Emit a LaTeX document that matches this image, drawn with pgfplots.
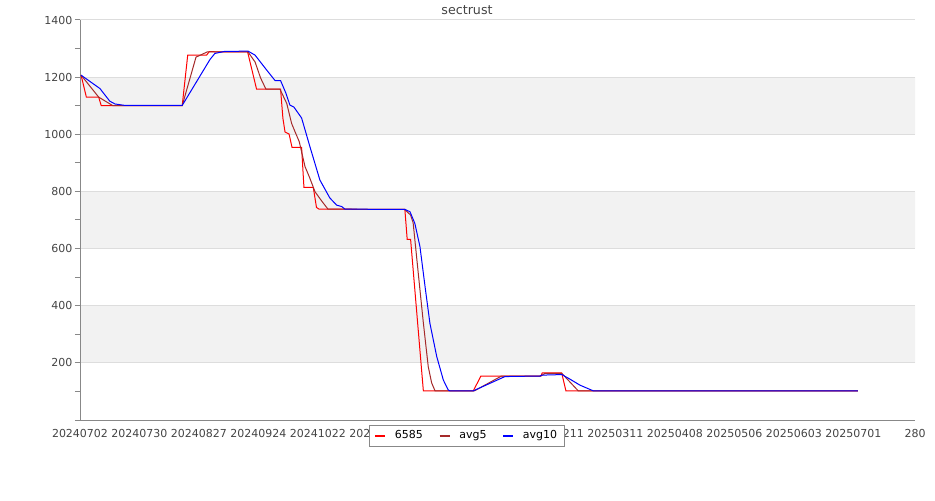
\documentclass[border=0pt]{standalone}
\usepackage{fontspec}
\setmainfont{DejaVu Sans}
\usepackage{pgfplots}
\pgfplotsset{compat=1.18}
\definecolor{bandgray}{HTML}{F2F2F2}
\definecolor{gridgray}{HTML}{DDDDDD}
\definecolor{axgray}{HTML}{888888}
\definecolor{txtgray}{HTML}{444444}
\definecolor{avgbrown}{HTML}{A52A2A}
\begin{document}
\begin{tikzpicture}
\begin{axis}[
  set layers,
  scale only axis, width=626.25pt, height=300pt,
  at={(0pt,0pt)}, anchor=south west,
  xmin=0, xmax=393, ymin=0, ymax=1400,
  axis x line*=bottom, axis y line*=left,
  axis line style={axgray, line width=0.75pt, -},
  ytick={200,400,...,1400},
  minor ytick={0,100,...,1300},
  tick align=outside,
  major tick length=3.75pt, minor tick length=3.75pt,
  ytick style={axgray, line width=0.75pt},
  minor tick style={axgray, line width=0.75pt},
  xtick={0,28,...,364,393},
  xticklabels={20240702,20240730,20240827,20240924,20241022,20241119,20241217,20250114,20250211,20250311,20250408,20250506,20250603,20250701,280},
  xtick style={draw=none},
  ymajorgrids,
  major grid style={gridgray, line width=0.75pt},
  /pgf/number format/assume math mode=true,
  /pgf/number format/1000 sep={},
  tick label style={font=\fontsize{8.25}{10}\selectfont, text=txtgray},
  xticklabel style={yshift=0.25pt},
  yticklabel style={xshift=1.5pt},
  title={sectrust},
  title style={font=\fontsize{9.5}{11}\selectfont, text=txtgray, at={(0.4635,1)}, anchor=center, yshift=1.5pt},
  legend style={at={(0.4635,-0.0125)}, anchor=north, draw=axgray, fill=white,
    font=\fontsize{8.25}{10}\selectfont, text=black, legend columns=3,
    /tikz/every odd column/.append style={column sep=4.5pt},
    /tikz/every even column/.append style={column sep=9.75pt},
    inner xsep=3.75pt, inner ysep=2pt},
  legend image code/.code={\draw[#1, line width=1.5pt] (0pt,0pt) -- (7.5pt,0pt);},
]
\addplot[draw=none, fill=bandgray, on layer=axis background, forget plot] coordinates {(0,1000) (393,1000) (393,1200) (0,1200) (0,1000)};
\addplot[draw=none, fill=bandgray, on layer=axis background, forget plot] coordinates {(0,600) (393,600) (393,800) (0,800) (0,600)};
\addplot[draw=none, fill=bandgray, on layer=axis background, forget plot] coordinates {(0,200) (393,200) (393,400) (0,400) (0,200)};
% 6585
\addplot[red, line width=0.75pt] coordinates {
(0.5,1207) (3.0,1130) (8.8,1130) (10.0,1100) (48.1,1100) (50.7,1277) (59.6,1277)
(60.8,1289) (78.9,1288) (83.1,1158) (94.4,1158) (95.5,1056) (96.5,1008) (98.4,1001)
(99.8,954) (104.3,954) (105.4,814) (109.8,814) (111.3,744) (112.5,738) (152.9,737)
(154.0,632) (155.6,632) (161.6,102) (185.1,102) (188.7,154) (216.9,154) (217.6,165)
(226.7,165) (228.7,102) (366.1,102)
};
\addlegendentry{6585}
% avg5
\addplot[avgbrown, line width=0.75pt] coordinates {
(0.5,1207) (8.8,1130) (15.5,1100) (48.1,1100) (51.8,1197) (54.6,1270) (59.8,1288)
(79.1,1288) (82.4,1253) (85.0,1197) (87.5,1158) (94.1,1158) (97.3,1108) (99.6,1038)
(101.2,1009) (103.2,974) (105.9,887) (108.2,846) (110.6,799) (113.7,767) (116.7,738)
(152.9,737) (155.6,717) (156.8,690) (159.2,514) (161.6,340) (163.9,187) (165.5,130)
(167.1,102) (185.6,102) (198.4,154) (216.9,154) (218.8,163) (226.8,163) (234.5,102)
(366.1,102)
};
\addlegendentry{avg5}
% avg10
\addplot[blue, line width=0.75pt] coordinates {
(0.5,1207) (9.4,1160) (14.0,1116) (16.5,1106) (21.2,1101) (48.1,1101) (61.2,1262)
(63.5,1283) (68.0,1290) (79.1,1291) (82.4,1277) (87.1,1232) (91.8,1188) (94.4,1188)
(96.9,1144) (98.8,1102) (100.7,1095) (104.3,1057) (108.2,957) (112.9,840) (117.6,777)
(120.8,752) (123.2,747) (124.7,738) (152.9,737) (155.3,729) (157.6,688) (160.0,607)
(162.4,467) (164.7,338) (167.9,222) (171.0,140) (173.3,105) (174.1,102) (185.1,102)
(200.0,152) (216.5,154) (217.3,157) (226.8,159) (230.6,143) (235.3,122) (241.6,102)
(366.1,102)
};
\addlegendentry{avg10}
\end{axis}
\path (-60pt,-60pt) rectangle (641.25pt,315pt);
\end{tikzpicture}
\end{document}
